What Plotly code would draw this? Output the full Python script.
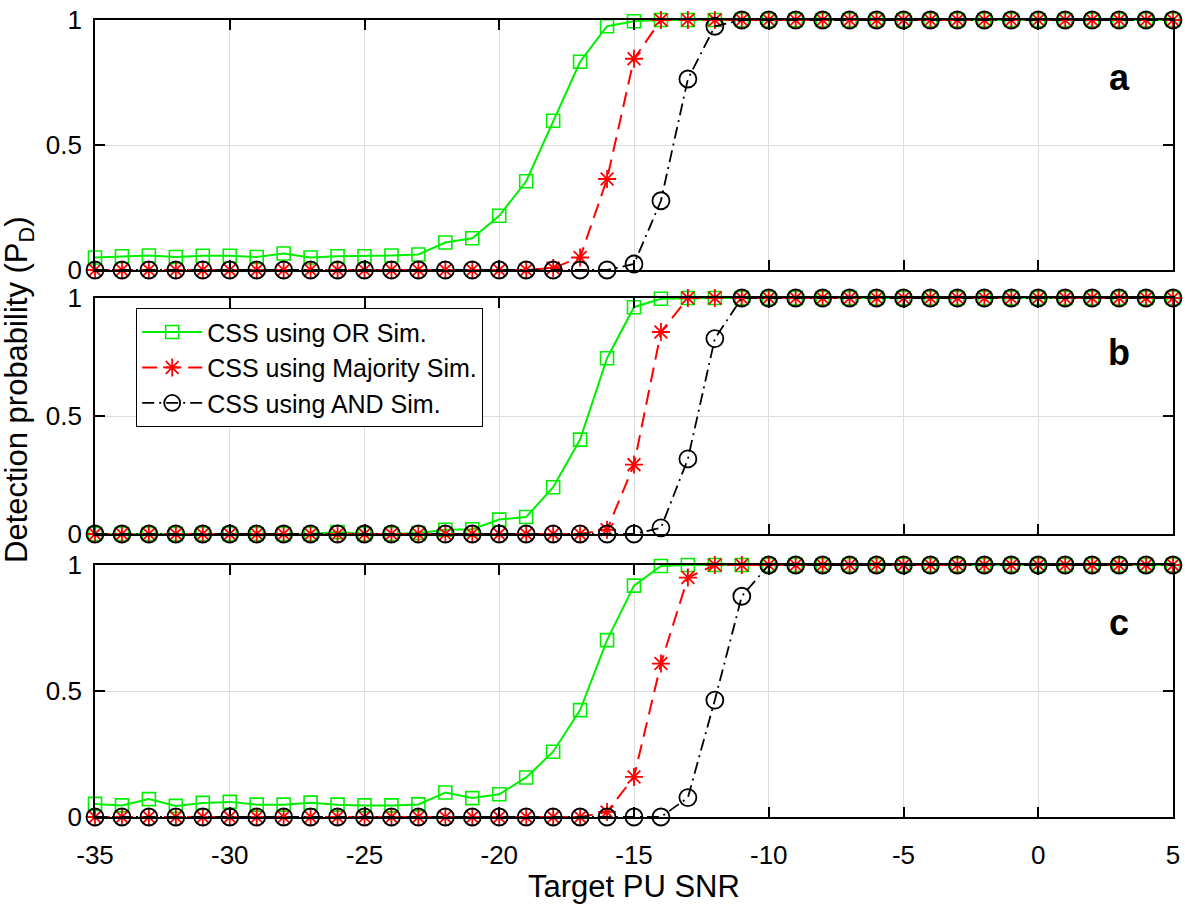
import plotly.graph_objects as go

snr = list(range(-35, 6))
x_tick_vals = list(range(-35, 6, 5))
x_tick_text = ["-35", "-30", "-25", "-20", "-15", "-10", "-5", "0", "5"]
y_tick_vals = [0, 0.5, 1]
y_tick_text = ["0", "0.5", "1"]

# Panel a
or_a = [0.05, 0.055, 0.058, 0.052, 0.057, 0.057, 0.052, 0.066, 0.05, 0.055, 0.055, 0.058, 0.062,
        0.11, 0.127, 0.217, 0.355, 0.597, 0.833, 0.975, 0.995] + [1.0] * 20
maj_a = [0.0] * 17 + [0.008, 0.05, 0.364, 0.845] + [1.0] * 20
and_a = [0.0] * 20 + [0.024, 0.277, 0.764, 0.975] + [1.0] * 17

# Panel b
or_b = [0.0] * 9 + [0.008, 0.0, 0.0, 0.004, 0.018, 0.02, 0.061, 0.072, 0.198, 0.4, 0.745,
        0.961, 0.997] + [1.0] * 19
maj_b = [0.0] * 19 + [0.018, 0.294, 0.856] + [1.0] * 19
and_b = [0.0] * 21 + [0.026, 0.318, 0.828] + [1.0] * 17

# Panel c
or_c = [0.052, 0.046, 0.071, 0.044, 0.056, 0.06, 0.049, 0.049, 0.057, 0.049, 0.046, 0.046, 0.05,
        0.097, 0.075, 0.09, 0.157, 0.259, 0.424, 0.702, 0.918, 0.996] + [1.0] * 19
maj_c = [0.0] * 19 + [0.02, 0.159, 0.609, 0.95] + [1.0] * 18
and_c = [0.0] * 22 + [0.077, 0.464, 0.876] + [1.0] * 16

panels = [(or_a, maj_a, and_a, "a"), (or_b, maj_b, and_b, "b"), (or_c, maj_c, and_c, "c")]
names = ["CSS using OR Sim.", "CSS using Majority Sim.", "CSS using AND Sim."]

W, H = 1185, 917
x0, x1 = 95, 1173
ybounds = [(20, 270), (298, 534), (565, 817)]

FONT = "Liberation Sans, Arial, sans-serif"

fig = go.Figure()
for i, (o, m, a, lab) in enumerate(panels):
    xa = "x" if i == 0 else f"x{i+1}"
    ya = "y" if i == 0 else f"y{i+1}"
    show = (i == 1)
    fig.add_trace(go.Scatter(x=snr, y=o, name=names[0], xaxis=xa, yaxis=ya, mode="lines+markers",
                             line=dict(color="#00ee00", width=2, dash="solid"),
                             marker=dict(symbol="square-open", size=13, color="#00ee00",
                                         line=dict(width=1.6, color="#00ee00")),
                             cliponaxis=False, showlegend=show))
    fig.add_trace(go.Scatter(x=snr, y=m, name=names[1], xaxis=xa, yaxis=ya, mode="lines+markers",
                             line=dict(color="#ff0000", width=2, dash="15px,8px"),
                             marker=dict(symbol="asterisk-open", size=15, color="#ff0000",
                                         line=dict(width=1.8, color="#ff0000")),
                             cliponaxis=False, showlegend=show))
    fig.add_trace(go.Scatter(x=snr, y=a, name=names[2], xaxis=xa, yaxis=ya, mode="lines+markers",
                             line=dict(color="#000000", width=1.8, dash="12px,5px,2px,5px"),
                             marker=dict(symbol="circle-open", size=17, color="#000000",
                                         line=dict(width=1.8, color="#000000")),
                             cliponaxis=False, showlegend=show))
    fig.add_annotation(x=3, y=0.77, xref=xa, yref=ya, text=f"<b>{lab}</b>", showarrow=False,
                       font=dict(family=FONT, size=36, color="black"))

for i, (top, bot) in enumerate(ybounds):
    xkey = "xaxis" if i == 0 else f"xaxis{i+1}"
    ykey = "yaxis" if i == 0 else f"yaxis{i+1}"
    ya = "y" if i == 0 else f"y{i+1}"
    xa = "x" if i == 0 else f"x{i+1}"
    fig.update_layout(**{
        xkey: dict(domain=[x0 / W, x1 / W], range=[-35, 5], anchor=ya, automargin=False,
                   tickvals=x_tick_vals, ticktext=x_tick_text, showticklabels=(i == 2),
                   ticks="inside", ticklen=10, tickwidth=1.5, tickcolor="black",
                   showline=True, linecolor="black", linewidth=1.6, mirror="ticks",
                   showgrid=True, gridcolor="#dddddd", gridwidth=1, zeroline=False,
                   tickfont=dict(family=FONT, size=26, color="black"),
                   ticklabelstandoff=14, ticklabeloverflow="allow"),
        ykey: dict(domain=[1 - bot / H, 1 - top / H], range=[0, 1], anchor=xa, automargin=False,
                   tickvals=y_tick_vals, ticktext=y_tick_text,
                   ticks="inside", ticklen=10, tickwidth=1.5, tickcolor="black",
                   showline=True, linecolor="black", linewidth=1.6, mirror="ticks",
                   showgrid=True, gridcolor="#dddddd", gridwidth=1, zeroline=False,
                   tickfont=dict(family=FONT, size=26, color="black"),
                   ticklabelstandoff=6, ticklabeloverflow="allow"),
    })

fig.add_annotation(x=19 / W, y=1 - 390 / H, xref="paper", yref="paper",
                   text="Detection probability (P<sub>D</sub>)", textangle=-90, showarrow=False,
                   xanchor="center", yanchor="middle",
                   font=dict(family=FONT, size=31, color="black"))
fig.add_annotation(x=634 / W, y=1 - 886 / H, xref="paper", yref="paper",
                   text="Target PU SNR", showarrow=False, xanchor="center", yanchor="middle",
                   font=dict(family=FONT, size=31, color="black"))

fig.update_layout(
    width=W, height=H, autosize=False,
    margin=dict(l=0, r=0, t=0, b=0, autoexpand=False),
    paper_bgcolor="white", plot_bgcolor="white",
    legend=dict(x=136 / W, y=1 - 308 / H, xanchor="left", yanchor="top",
                bgcolor="white", bordercolor="black", borderwidth=1.2,
                font=dict(family=FONT, size=25, color="black"),
                tracegroupgap=0, itemwidth=60),
)

fig.write_html("out.html", config={"displayModeBar": False},
               post_script="document.body.style.margin='0px';document.body.style.overflow='hidden';")
